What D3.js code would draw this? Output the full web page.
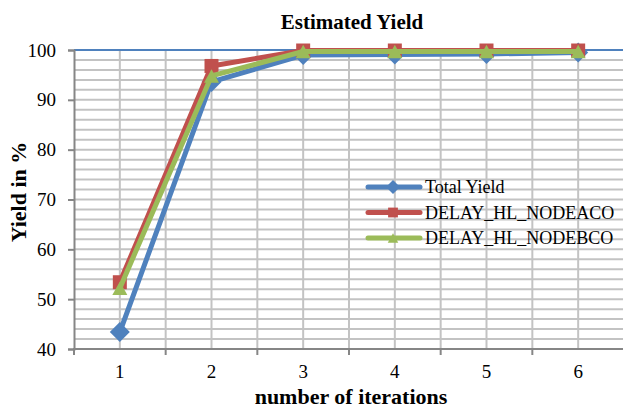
<!DOCTYPE html>
<html>
<meta charset="utf-8">
<head>
<style>
body { margin: 0; background: #fff; }
</style>
</head>
<body>
<svg width="623" height="410"></svg>

<script src="https://d3js.org/d3.v7.min.js"></script>
<script>

var iterations = ["1", "2", "3", "4", "5", "6"];
var totalYield = [43.4, 93.6, 99.0, 99.1, 99.2, 99.5];
var nodeACO   = [53.4, 96.8, 99.9, 99.9, 99.9, 99.9];
var nodeBCO   = [52.2, 94.8, 99.7, 99.7, 99.7, 99.7];
var seriesNames = ["Total Yield", "DELAY_HL_NODEACO", "DELAY_HL_NODEBCO"];
var yTicks = [40, 50, 60, 70, 80, 90, 100];

var FONT = "'Liberation Serif', 'Times New Roman', serif";

var svg = d3.select("svg"),
    width = +svg.attr("width"),
    height = +svg.attr("height");

var pLeft = 74, pRight = 624, pTop = 50, pBottom = 349;

var x = d3.scaleBand().domain(iterations).range([pLeft, pRight]);
var y = d3.scaleLinear().domain([40, 100]).range([pBottom, pTop]);
var bw = x.bandwidth();
function cx(i) { return x(iterations[i]) + bw / 2; }

// marker shapes, drawn around 0,0 with size s = full width
function diamond(s) { var h = s / 2; return "M0," + (-h) + "L" + h + ",0L0," + h + "L" + (-h) + ",0Z"; }
function square(s) { var h = s / 2; return "M" + (-h) + "," + (-h) + "H" + h + "V" + h + "H" + (-h) + "Z"; }
function triangle(s) { var h = s / 2, v = s * 0.45; return "M0," + (-v) + "L" + h + "," + v + "L" + (-h) + "," + v + "Z"; }

var series = [
  {name: seriesNames[0], values: totalYield, color: "#4F81BD", shape: diamond, size: 20},
  {name: seriesNames[1], values: nodeACO, color: "#C0504D", shape: square, size: 14},
  {name: seriesNames[2], values: nodeBCO, color: "#9BBB59", shape: triangle, size: 15}
];

// grid
var grid = svg.append("g");
grid.selectAll("line.h")
  .data(d3.range(42, 100, 2))
  .enter().append("line")
    .attr("x1", pLeft).attr("x2", pRight)
    .attr("y1", function(d) { return y(d); })
    .attr("y2", function(d) { return y(d); })
    .attr("stroke", "#c3c3c3").attr("stroke-width", 2);

var vx = [];
iterations.forEach(function(c) { vx.push(x(c) + bw / 2); vx.push(x(c) + bw); });
grid.selectAll("line.v")
  .data(vx)
  .enter().append("line")
    .attr("x1", function(d) { return d; }).attr("x2", function(d) { return d; })
    .attr("y1", pTop).attr("y2", pBottom)
    .attr("stroke", "#c3c3c3").attr("stroke-width", 2);

// top line is blue
svg.append("line")
  .attr("x1", pLeft).attr("x2", pRight)
  .attr("y1", y(100)).attr("y2", y(100))
  .attr("stroke", "#4F81BD").attr("stroke-width", 2);

// axes
var yAxis = d3.axisLeft(y).tickValues(yTicks).tickSize(6).tickPadding(12);
var gy = svg.append("g").attr("transform", "translate(" + pLeft + ",0)").call(yAxis);
gy.attr("font-family", FONT);
gy.select(".domain").attr("stroke", "#868686").attr("stroke-width", 2);
gy.selectAll(".tick line").attr("stroke", "#868686").attr("stroke-width", 2);
gy.selectAll(".tick text").attr("font-size", 19).attr("fill", "#000");

var gx = svg.append("g").attr("transform", "translate(0," + pBottom + ")");
gx.append("line").attr("x1", pLeft - 1).attr("x2", pRight)
  .attr("stroke", "#868686").attr("stroke-width", 2);
gx.selectAll("line.t")
  .data(iterations.map(function(c) { return x(c); }).concat([pRight]))
  .enter().append("line")
    .attr("x1", function(d) { return d; }).attr("x2", function(d) { return d; })
    .attr("y1", 0).attr("y2", 6)
    .attr("stroke", "#868686").attr("stroke-width", 2);
gx.selectAll("text")
  .data(iterations)
  .enter().append("text")
    .attr("x", function(d) { return x(d) + bw / 2; })
    .attr("y", 29)
    .attr("text-anchor", "middle")
    .attr("font-family", FONT)
    .attr("font-size", 19)
    .text(function(d) { return d; });

// series
var line = d3.line()
  .x(function(d, i) { return cx(i); })
  .y(function(d) { return y(d); });

series.forEach(function(s) {
  svg.append("path")
    .datum(s.values)
    .attr("d", line)
    .attr("fill", "none")
    .attr("stroke", s.color)
    .attr("stroke-width", 5)
    .attr("stroke-linejoin", "round");
  svg.selectAll(null)
    .data(s.values)
    .enter().append("path")
      .attr("d", s.shape(s.size))
      .attr("transform", function(d, i) { return "translate(" + cx(i) + "," + y(d) + ")"; })
      .attr("fill", s.color);
});

// legend
var legend = svg.append("g");
series.forEach(function(s, i) {
  var ly = 187 + i * 25.5;
  legend.append("line")
    .attr("x1", 368).attr("x2", 420).attr("y1", ly).attr("y2", ly)
    .attr("stroke", s.color).attr("stroke-width", 5).attr("stroke-linecap", "round");
  legend.append("path")
    .attr("d", s.shape(s.size * 0.7))
    .attr("transform", "translate(393," + ly + ")")
    .attr("fill", s.color);
  legend.append("text")
    .attr("x", 425).attr("y", ly + 6)
    .attr("font-family", FONT)
    .attr("font-size", 18)
    .text(s.name);
});

// titles
svg.append("text")
  .attr("x", 352).attr("y", 29)
  .attr("text-anchor", "middle")
  .attr("font-family", FONT)
  .attr("font-size", 21).attr("font-weight", "bold")
  .text("Estimated Yield");

svg.append("text")
  .attr("transform", "translate(26,192) rotate(-90)")
  .attr("text-anchor", "middle")
  .attr("font-family", FONT)
  .attr("font-size", 22).attr("font-weight", "bold")
  .text("Yield in %");

svg.append("text")
  .attr("x", 351).attr("y", 404)
  .attr("text-anchor", "middle")
  .attr("font-family", FONT)
  .attr("font-size", 22).attr("font-weight", "bold")
  .text("number of iterations");

</script>
</body>
</html>
